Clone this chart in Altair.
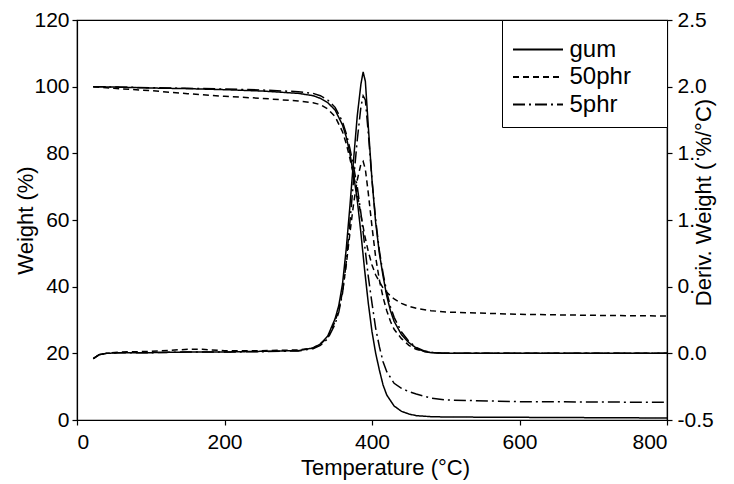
import altair as alt
import pandas as pd

# ---- data ----
samples = ["gum", "50phr", "5phr"]

temp_tga = [22, 50, 100, 150, 200, 250, 300, 320, 330, 340, 350, 360, 365, 370, 375,
            380, 385, 390, 395, 400, 405, 410, 415, 420, 430, 440, 450, 460, 480, 500,
            600, 700, 800]
gum_weight = [100, 99.9, 99.6, 99.4, 99.1, 98.7, 98.0, 97.3, 96.5, 95.2, 93.0, 88.5, 85.0,
              80.0, 73.5, 66.0, 56.0, 45.0, 35.0, 26.5, 20.0, 15.0, 10.5, 7.5, 4.2, 2.6,
              1.8, 1.3, 1.0, 0.9, 0.8, 0.7, 0.6]
phr5_weight = [100, 99.9, 99.7, 99.5, 99.3, 99.0, 98.5, 98.0, 97.3, 96.0, 93.8, 89.5, 86.0,
               81.5, 76.0, 70.0, 62.0, 52.5, 43.0, 35.0, 27.5, 22.0, 17.5, 14.5, 11.0, 9.5,
               8.5, 7.8, 6.6, 6.0, 5.5, 5.4, 5.3]
phr50_weight = [100, 99.5, 98.8, 97.9, 97.1, 96.5, 95.7, 95.2, 94.6, 93.3, 91.0, 86.5, 83.0,
                78.5, 73.5, 68.0, 61.5, 55.5, 50.5, 46.5, 43.5, 41.5, 39.6, 38.3, 36.3, 35.0,
                34.1, 33.5, 32.8, 32.4, 31.7, 31.4, 31.2]

temp_dtg = [22, 30, 40, 60, 100, 150, 170, 200, 250, 300, 320, 330, 340, 350, 355, 360, 365,
            370, 375, 380, 385, 388, 391, 395, 400, 405, 410, 415, 420, 425, 430, 440, 450,
            460, 470, 480, 500, 600, 700, 800]
gum_deriv = [-0.04, -0.01, 0.0, 0.005, 0.005, 0.01, 0.01, 0.01, 0.015, 0.02, 0.04, 0.07, 0.13,
             0.26, 0.36, 0.52, 0.78, 1.10, 1.45, 1.78, 2.02, 2.11, 2.04, 1.70, 1.30, 0.98,
             0.75, 0.58, 0.43, 0.32, 0.24, 0.14, 0.08, 0.04, 0.015, 0.005, 0.0, 0.0, 0.0, 0.0]
phr5_deriv = [-0.04, -0.01, 0.0, 0.005, 0.005, 0.01, 0.01, 0.01, 0.012, 0.018, 0.035, 0.06,
              0.11, 0.22, 0.31, 0.45, 0.68, 0.98, 1.30, 1.60, 1.85, 1.93, 1.90, 1.65, 1.30,
              1.00, 0.77, 0.60, 0.46, 0.35, 0.27, 0.16, 0.09, 0.045, 0.02, 0.008, 0.0, 0.0,
              0.0, 0.0]
phr50_deriv = [-0.04, -0.01, 0.0, 0.01, 0.015, 0.03, 0.03, 0.02, 0.02, 0.025, 0.04, 0.07,
               0.12, 0.24, 0.33, 0.46, 0.66, 0.90, 1.12, 1.30, 1.42, 1.44, 1.38, 1.20, 0.95,
               0.72, 0.55, 0.42, 0.32, 0.24, 0.18, 0.11, 0.06, 0.03, 0.015, 0.005, 0.0, 0.0,
               0.0, 0.0]

x_ticks = [0, 200, 400, 600, 800]
weight_ticks = [0, 20, 40, 60, 80, 100, 120]
deriv_ticks = [-0.5, 0.0, 0.5, 1.0, 1.5, 2.0, 2.5]
# right-axis labels as they appear in the reference (partly hidden by the axis title)
deriv_tick_labels = ["-0.5", "0.0", "0.", "1.", "1.:", "2.0", "2.5"]

# ---- tables ----
tga = pd.concat([
    pd.DataFrame({"T": temp_tga, "w": vals, "sample": s})
    for s, vals in zip(samples, [gum_weight, phr50_weight, phr5_weight])
])
dtg = pd.concat([
    pd.DataFrame({"T": temp_dtg, "d": vals, "sample": s})
    for s, vals in zip(samples, [gum_deriv, phr50_deriv, phr5_deriv])
])

FONT = "Liberation Sans"

deriv_label_expr = " : ".join(
    f"abs(datum.value - ({v})) < 1e-6 ? '{lab}'" for v, lab in zip(deriv_ticks, deriv_tick_labels)
) + " : datum.label"

dash_scale = alt.Scale(domain=samples, range=[[1, 0], [6, 4], [12, 4, 2, 4]])
legend = alt.Legend(
    title=" ", titleFontSize=2, titlePadding=4,
    orient="top-right", offset=0, padding=10,
    strokeColor="black", fillColor="white", cornerRadius=0,
    # 50px line sample; trailing move-to widens the legend box like the reference
    symbolType="M-2,0H2M9.2,0", symbolSize=625, symbolOffset=12.5, symbolStrokeWidth=2,
    symbolStrokeColor="black", labelFont=FONT, labelFontSize=24,
    labelColor="black", rowPadding=1.5, labelOffset=18,
)

x_enc = alt.X(
    "T:Q",
    scale=alt.Scale(domain=[0, 800], nice=False),
    axis=alt.Axis(values=x_ticks, title="Temperature (°C)", labelPadding=6,
                  titleX=308, titleY=47, titleBaseline="middle"),
)

left = alt.Chart(tga).mark_line(color="black", strokeWidth=1.5).encode(
    x=x_enc,
    y=alt.Y("w:Q", scale=alt.Scale(domain=[0, 120], nice=False),
            axis=alt.Axis(orient="left", values=weight_ticks, title="Weight (%)",
                          labelPadding=3, titleX=-52, titleY=200,
                          titleBaseline="middle", titleAlign="center")),
    strokeDash=alt.StrokeDash("sample:N", scale=dash_scale, legend=legend),
)

right = alt.Chart(dtg).mark_line(color="black", strokeWidth=1.5).encode(
    x=x_enc,
    y=alt.Y("d:Q", scale=alt.Scale(domain=[-0.5, 2.5], nice=False),
            axis=alt.Axis(orient="right", values=deriv_ticks, format=".1f",
                          labelExpr=deriv_label_expr,
                          title="Deriv. Weight ( %/°C)", labelPadding=5,
                          titleAngle=270, titleX=36, titleY=182,
                          titleBaseline="middle", titleAlign="center")),
    strokeDash=alt.StrokeDash("sample:N", scale=dash_scale, legend=legend),
)

chart = alt.layer(left, right).resolve_scale(y="independent").properties(
    width=590, height=400,
    autosize=alt.AutoSizeParams(type="none"),
    padding={"left": 77, "top": 20, "right": 67, "bottom": 64},
    background="white",
).configure_view(
    stroke="black", strokeWidth=1.2
).configure_axis(
    grid=False, domainColor="black", domainWidth=1.2, tickColor="black",
    tickSize=5, tickWidth=1.2, labelFont=FONT, labelFontSize=21,
    labelColor="black", titleFont=FONT, titleFontSize=22,
    titleFontWeight="normal", titleColor="black",
)

chart.save("out.html", embed_options={"renderer": "svg", "actions": False})
